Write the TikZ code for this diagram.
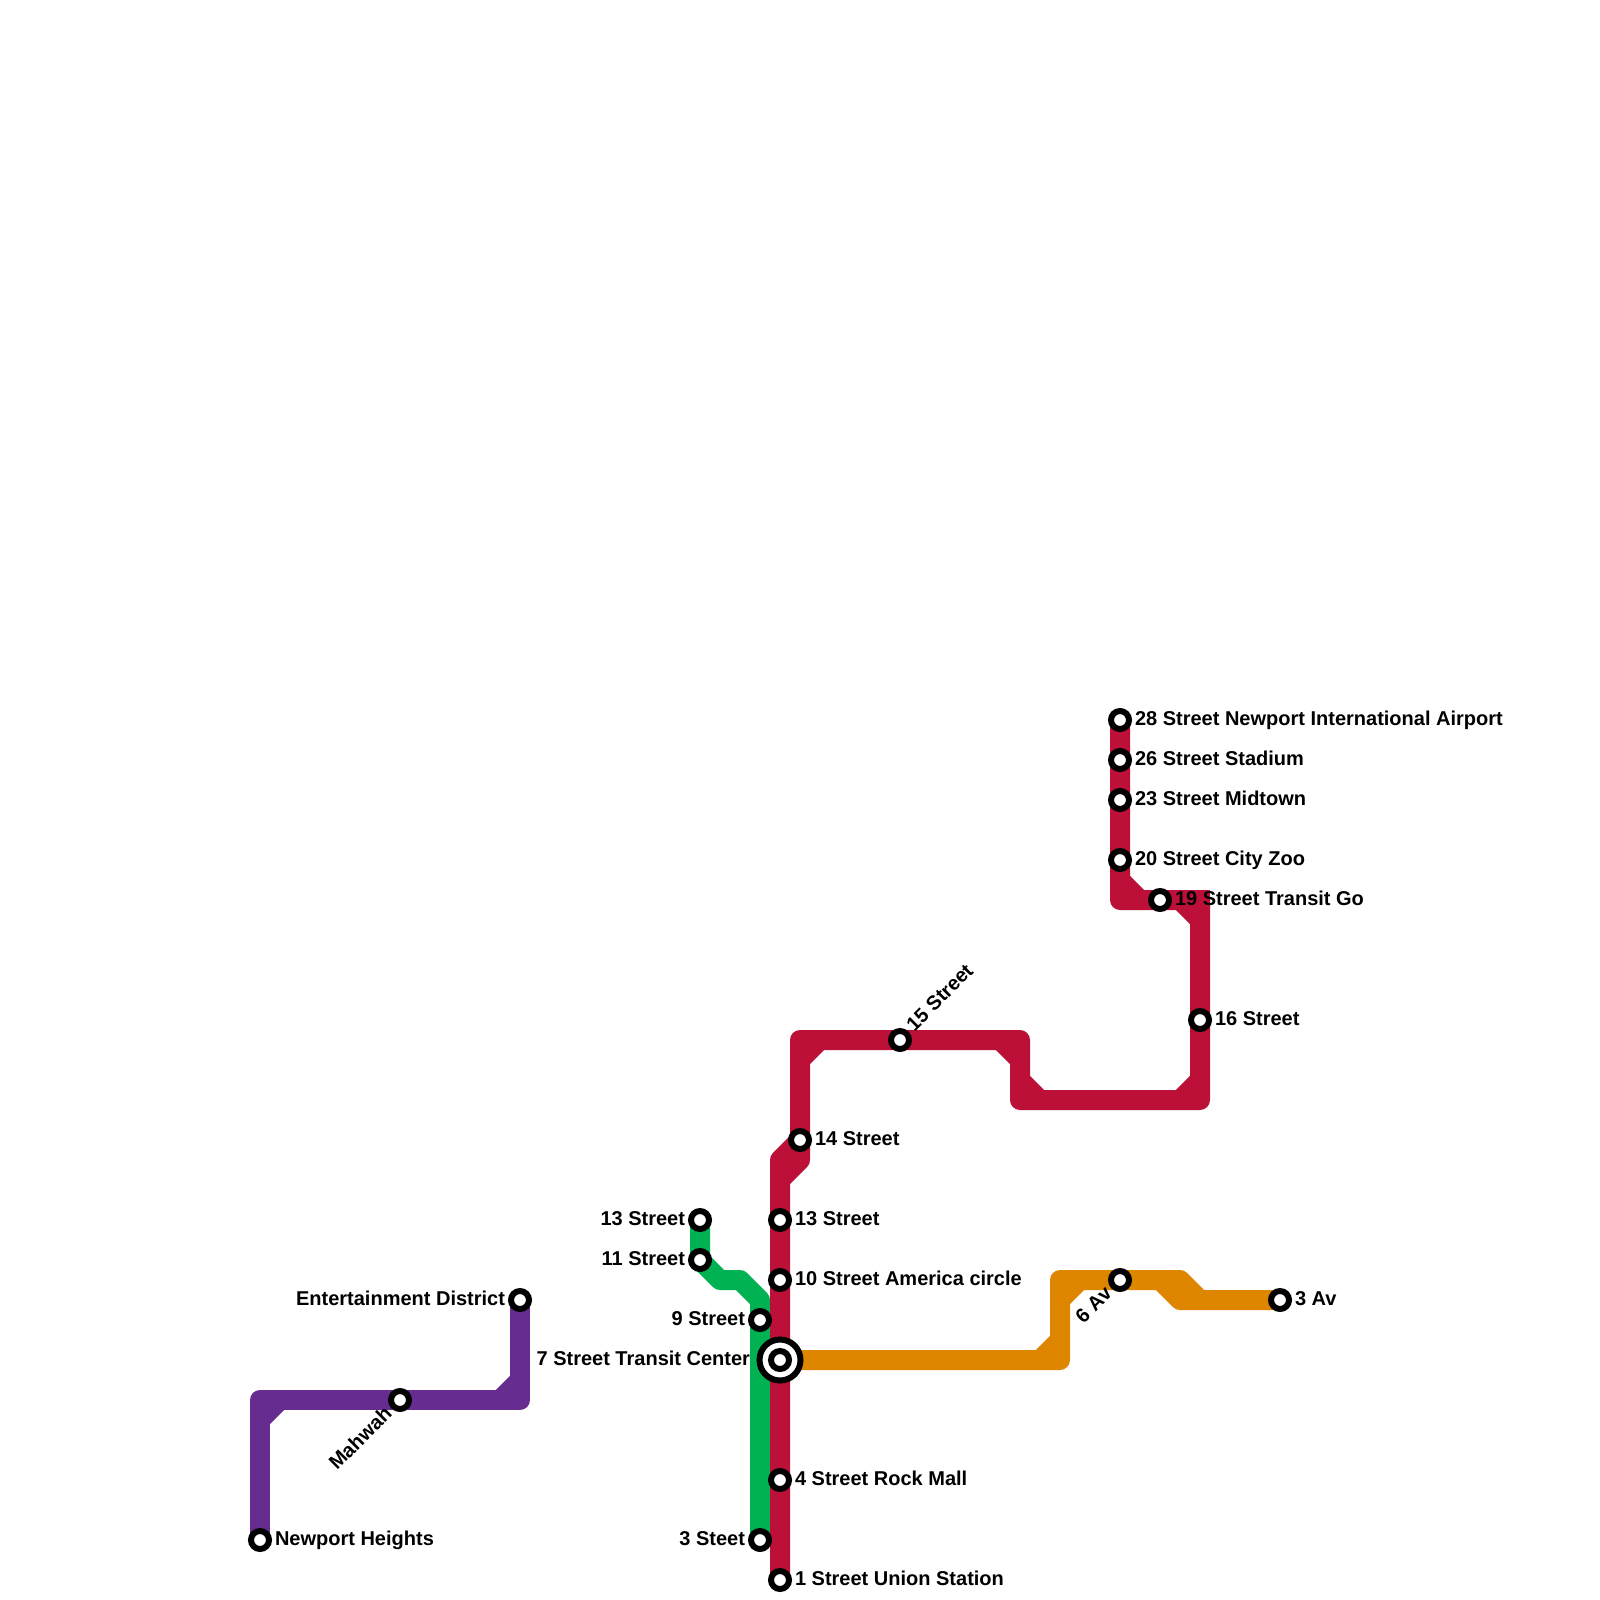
\documentclass[tikz,border=0pt]{standalone}
\usepackage{fontspec}
\setmainfont{Liberation Sans}
\tikzset{
  metro/.style={line width=20pt,line join=round,line cap=butt},
  redline/.style={metro,draw=lred},
  greenline/.style={metro,draw=lgreen},
  orangeline/.style={metro,draw=lorange},
  purpleline/.style={metro,draw=lpurple},
  stn/.style={circle,draw=black,fill=white,line width=6pt,minimum size=18pt,inner sep=0pt},
  hub/.style={circle,draw=black,fill=white,line width=6pt,minimum size=41pt,inner sep=0pt},
  lab/.style={font=\fontsize{20}{24}\selectfont\bfseries,text=black,inner sep=0pt,outer sep=0pt},
  labr/.style={lab,anchor=base west},
  labl/.style={lab,anchor=base east},
  labru/.style={lab,anchor=base west,rotate=45},
  labdl/.style={lab,anchor=base east,rotate=45}
}
\definecolor{lred}{HTML}{BD1038}
\definecolor{lgreen}{HTML}{00B251}
\definecolor{lorange}{HTML}{DF8600}
\definecolor{lpurple}{HTML}{662C90}
\begin{document}
\begin{tikzpicture}[x=1pt,y=-1pt]
\useasboundingbox (0,0) rectangle (1600,1600);
% stations
\coordinate (s1) at (780,1580); \coordinate (s4) at (780,1480); \coordinate (s7) at (780,1360);
\coordinate (s10) at (780,1280); \coordinate (s13) at (780,1220); \coordinate (s14) at (800,1140);
\coordinate (s15) at (900,1040); \coordinate (s16) at (1200,1020); \coordinate (s19) at (1160,900);
\coordinate (s20) at (1120,860); \coordinate (s23) at (1120,800); \coordinate (s26) at (1120,760);
\coordinate (s28) at (1120,720);
\coordinate (g3) at (760,1540); \coordinate (g9) at (760,1320); \coordinate (g11) at (700,1260); \coordinate (g13) at (700,1220);
\coordinate (o6) at (1120,1280); \coordinate (o3) at (1280,1300);
\coordinate (p1) at (260,1540); \coordinate (p2) at (400,1400); \coordinate (p3) at (520,1300);
% red bends
\coordinate (ra) at (780,1160); \coordinate (rb) at (800,1040); \coordinate (rc) at (1020,1040);
\coordinate (rd) at (1020,1100); \coordinate (re) at (1200,1100); \coordinate (rf) at (1200,900);
\coordinate (rg) at (1120,900);
\coordinate (d1a) at (780,1180); \coordinate (d1b) at (800,1160);
\coordinate (d2a) at (800,1060); \coordinate (d2b) at (820,1040);
\coordinate (d3a) at (1000,1040); \coordinate (d3b) at (1020,1060);
\coordinate (d4a) at (1020,1080); \coordinate (d4b) at (1040,1100);
\coordinate (d5a) at (1180,1100); \coordinate (d5b) at (1200,1080);
\coordinate (d6a) at (1180,900); \coordinate (d6b) at (1200,920);
\coordinate (d7a) at (1120,880); \coordinate (d7b) at (1140,900);
\coordinate (d8) at (1210,900);
% green bends
\coordinate (ga) at (760,1300); \coordinate (gb) at (740,1280); \coordinate (gc) at (720,1280);
% orange bends
\coordinate (oa) at (1060,1360); \coordinate (ob) at (1060,1280); \coordinate (oc) at (1180,1280);
\coordinate (od) at (1200,1300); \coordinate (oe) at (1160,1280); \coordinate (of) at (1180,1300);
\coordinate (og) at (1040,1360); \coordinate (oh) at (1060,1340); \coordinate (oi) at (1060,1300); \coordinate (oj) at (1080,1280);
% purple bends
\coordinate (pa) at (260,1400); \coordinate (pb) at (520,1400);
\coordinate (pc) at (260,1420); \coordinate (pd) at (280,1400); \coordinate (pe) at (500,1400); \coordinate (pf) at (520,1380);

% lines
\draw[greenline] (g3) -- (ga) -- (gb) -- (gc) -- (g11) -- (g13);
\draw[orangeline] (s7) -- (oa) -- (ob) -- (oc) -- (od) -- (o3);
\draw[orangeline] (og) -- (oh);
\draw[orangeline] (oi) -- (oj);
\draw[orangeline] (oe) -- (of) -- (od);
\draw[redline] (s1) -- (ra) -- (s14) -- (rb) -- (rc) -- (rd) -- (re) -- (rf) -- (rg) -- (s28);
\draw[redline] (d1a) -- (d1b) -- (s14);
\draw[redline] (d2a) -- (d2b);
\draw[redline] (d3a) -- (d3b);
\draw[redline] (d4a) -- (d4b);
\draw[redline] (d5a) -- (d5b);
\draw[redline] (d6a) -- (d6b);
\draw[redline] (d7a) -- (d7b);
\draw[redline] (d6a) -- (d8);
\draw[purpleline] (p1) -- (pa) -- (pb) -- (p3);
\draw[purpleline] (pc) -- (pd);
\draw[purpleline] (pe) -- (pf);

% station markers
\node[hub] (n7o) at (s7) {};
\foreach \c in {s1,s4,s7,s10,s13,s14,s15,s16,s19,s20,s23,s26,s28,g3,g9,g11,g13,o6,o3,p1,p2,p3}
  \node[stn] (n\c) at (\c) {};

% labels
\node[labr] (t1) at ([shift={(15,5)}]s1) {1 Street Union Station};
\node[labr] (t4) at ([shift={(15,5)}]s4) {4 Street Rock Mall};
\node[labl] (t7) at ([shift={(-30,5)}]s7) {7 Street Transit Center};
\node[labr] (t10) at ([shift={(15,5)}]s10) {10 Street America circle};
\node[labr] (t13) at ([shift={(15,5)}]s13) {13 Street};
\node[labr] (t14) at ([shift={(15,5)}]s14) {14 Street};
\node[labru] (t15) at ([shift={(14.5,-8)}]s15) {15 Street};
\node[labr] (t16) at ([shift={(15,5)}]s16) {16 Street};
\node[labr] (t19) at ([shift={(15,5)}]s19) {19 Street Transit Go};
\node[labr] (t20) at ([shift={(15,5)}]s20) {20 Street City Zoo};
\node[labr] (t23) at ([shift={(15,5)}]s23) {23 Street Midtown};
\node[labr] (t26) at ([shift={(15,5)}]s26) {26 Street Stadium};
\node[labr] (t28) at ([shift={(15,5)}]s28) {28 Street Newport International Airport};
\node[labl] (tg3) at ([shift={(-15,5)}]g3) {3 Steet};
\node[labl] (tg9) at ([shift={(-15,5)}]g9) {9 Street};
\node[labl] (tg11) at ([shift={(-15,5)}]g11) {11 Street};
\node[labl] (tg13) at ([shift={(-15,5)}]g13) {13 Street};
\node[labdl] (to6) at ([shift={(-7,15)}]o6) {6 Av};
\node[labr] (to3) at ([shift={(15,5)}]o3) {3 Av};
\node[labr] (tp1) at ([shift={(15,5)}]p1) {Newport Heights};
\node[labdl] (tp2) at ([shift={(-7,15)}]p2) {Mahwah};
\node[labl] (tp3) at ([shift={(-15,5)}]p3) {Entertainment District};
\end{tikzpicture}
\end{document}
